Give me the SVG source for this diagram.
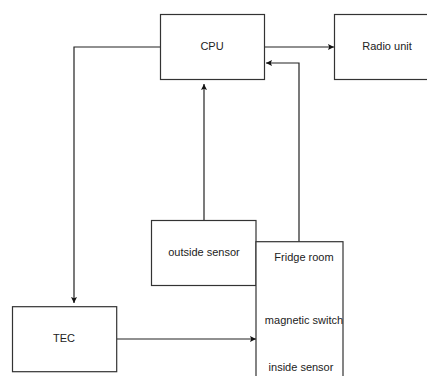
<svg xmlns="http://www.w3.org/2000/svg" width="427" height="376" viewBox="0 0 427 376">
<style>
.box{fill:#ffffff;stroke:#333333;stroke-width:1.2}
.lbl{font-family:"Liberation Sans",Arial,sans-serif;font-size:11px;fill:#222222;text-anchor:middle}
.con{fill:none;stroke:#222222;stroke-width:1.2}
</style>
<defs>
<marker id="ah" viewBox="0 0 10 10" refX="10" refY="5" markerWidth="6" markerHeight="6" markerUnits="userSpaceOnUse" orient="auto">
<path d="M0,0 L10,5 L0,10 L2,5 Z" fill="#111111"/>
</marker>
</defs>
<rect width="427" height="376" fill="#ffffff"/>
<g id="connectors">
<path class="con" d="M265,47 L334,47" marker-end="url(#ah)"/>
<path class="con" d="M299,242 L299,63 L266,63" marker-end="url(#ah)"/>
<path class="con" d="M204,220 L204,84" marker-end="url(#ah)"/>
<path class="con" d="M160,47 L74,47 L74,303" marker-end="url(#ah)"/>
<path class="con" d="M117,339 L256,339" marker-end="url(#ah)"/>
</g>
<g id="cpu">
<rect class="box" x="160.5" y="14.5" width="104" height="65"/>
<text class="lbl" x="212" y="50">CPU</text>
</g>
<g id="radio">
<rect class="box" x="334.5" y="14.5" width="100" height="65"/>
<text class="lbl" x="387" y="50">Radio unit</text>
</g>
<g id="outside-sensor">
<rect class="box" x="151.5" y="220.5" width="104.5" height="65"/>
<text class="lbl" x="204" y="256">outside sensor</text>
</g>
<g id="fridge-room">
<rect class="box" x="256" y="241.7" width="87" height="145"/>
<text class="lbl" x="304" y="261">Fridge room</text>
<text class="lbl" x="304" y="324">magnetic switch</text>
<text class="lbl" x="301" y="371">inside sensor</text>
</g>
<g id="tec">
<rect class="box" x="12.5" y="306.7" width="104.2" height="65"/>
<text class="lbl" x="64" y="342">TEC</text>
</g>
</svg>
